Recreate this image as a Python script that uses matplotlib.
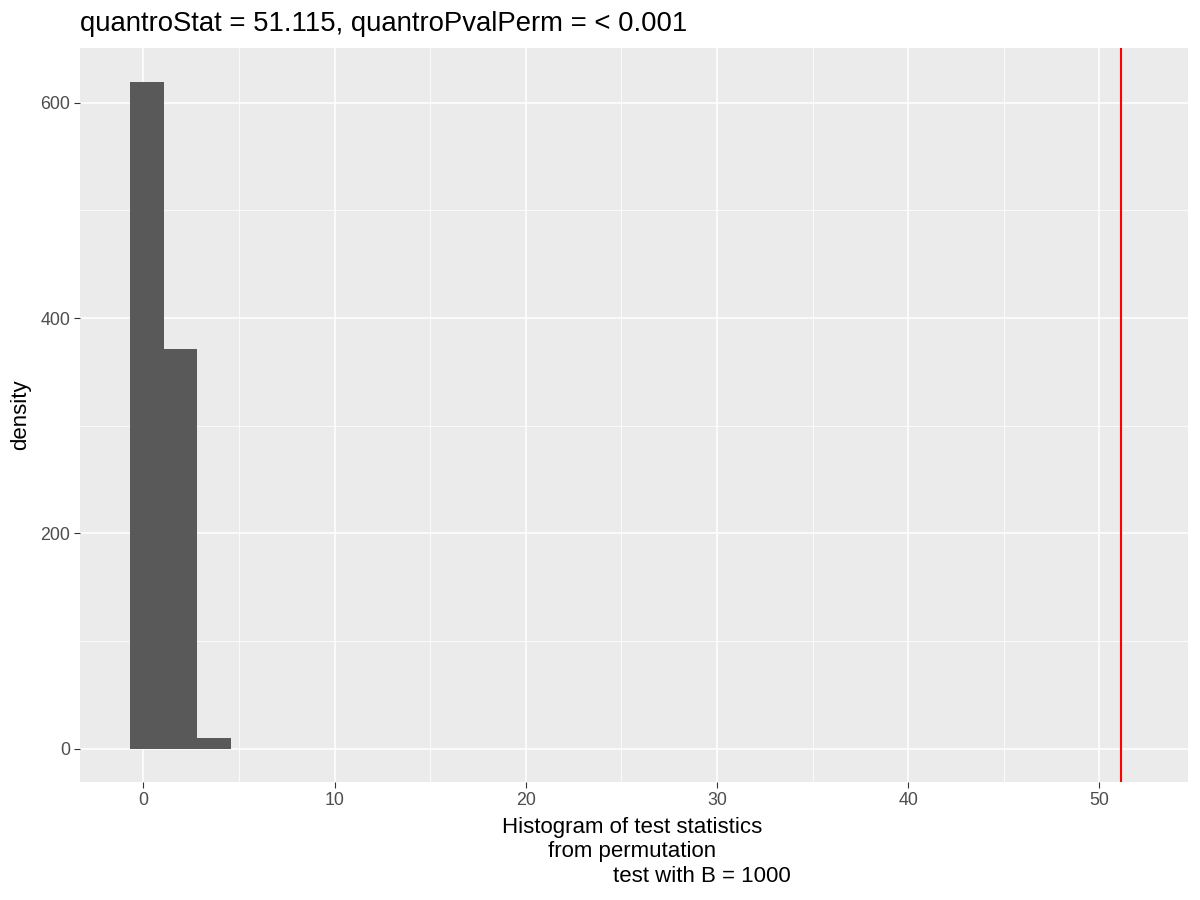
import matplotlib
matplotlib.use("Agg")
import matplotlib.pyplot as plt
from matplotlib.ticker import MultipleLocator

plt.rcParams['font.family'] = ['Liberation Sans', 'DejaVu Sans']

# histogram of permutation test statistics
bin_edges = [-0.68, 1.06, 2.82, 4.58]
densities = [619, 371, 10]
quantro_stat = 51.115
title = "quantroStat = 51.115, quantroPvalPerm = < 0.001"
xlabel_lines = ["Histogram of test statistics", "from permutation", "test with B = 1000"]
xticks = [0, 10, 20, 30, 40, 50]
yticks = [0, 200, 400, 600]

fig = plt.figure(figsize=(12, 9), dpi=100)
ax = fig.add_axes([80/1200, 118/900, 1108/1200, 734/900])
ax.set_facecolor("#EBEBEB")

for lo, hi, d in zip(bin_edges[:-1], bin_edges[1:], densities):
    ax.bar(lo, d, width=hi - lo, align="edge", color="#595959", zorder=3)
ax.axvline(quantro_stat, color="red", lw=1.5, zorder=4)

ax.set_xlim(-3.32, 54.63)
ax.set_ylim(-31.1, 651)
ax.set_xticks(xticks)
ax.set_yticks(yticks)
ax.xaxis.set_minor_locator(MultipleLocator(5))
ax.yaxis.set_minor_locator(MultipleLocator(100))
ax.grid(which="major", color="white", lw=1.1, zorder=1)
ax.grid(which="minor", color="white", lw=0.55, zorder=1)
ax.set_axisbelow(True)
for s in ax.spines.values():
    s.set_visible(False)
ax.tick_params(which="major", length=4, width=0.8, color="#333333",
               labelcolor="#4D4D4D", labelsize=12.8, pad=3)
ax.tick_params(which="minor", length=0)

fig.text(21/1200, 1 - 415/900, "density", fontsize=16, rotation=90,
         ha="center", va="center")
fig.text(80/1200, 1 - 31/900, title, fontsize=19.8, ha="left", va="baseline")

lefts = [502, 548, 613]
bases = [833, 857, 882]
for line, lx, by in zip(xlabel_lines, lefts, bases):
    fig.text(lx/1200, 1 - by/900, line, fontsize=16, ha="left", va="baseline")

fig.savefig("out.png", dpi=100)
